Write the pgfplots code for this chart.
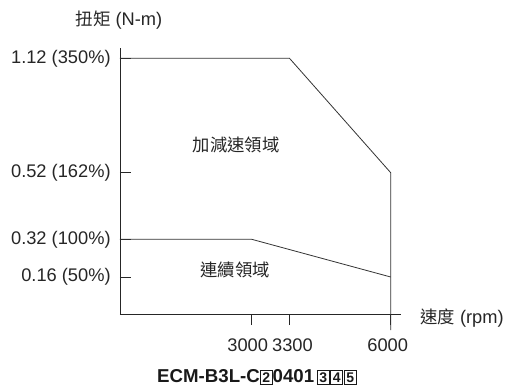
\documentclass[border=0pt]{standalone}
\usepackage{pgfplots}
\pgfplotsset{compat=1.18}
\usepackage{fontspec}
\setmainfont{Liberation Sans}
\newfontfamily\cjk{Noto Sans CJK TC}
\newcommand{\bx}[1]{{\setlength{\fboxsep}{1.2pt}\setlength{\fboxrule}{0.7pt}\fbox{\fontsize{10.5}{10.5}\selectfont\bfseries #1}}}
\begin{document}
\begin{tikzpicture}
\begin{axis}[
  x=0.75pt, y=0.75pt,
  xmin=0, xmax=281, ymin=0, ymax=266.5,
  axis lines=left,
  axis line style={-, line width=0.7pt, black!85},
  clip=false,
  tick align=outside,
  major tick length=8pt,
  tick style={line width=0.7pt, black!85},
  ytick style={xshift=8pt},
  xtick={131.7,169.5,270.7},
  xticklabels={3000\kern6pt,\kern4.5pt 3300,6000\kern4.5pt},
  ytick={37.5,75.2,141.8,256.2},
  yticklabels={0.16 (50\%),0.32 (100\%),0.52 (162\%),1.12 (350\%)},
  ticklabel style={font=\fontsize{13.7}{15}\selectfont, text=black!85},
  yticklabel style={xshift=4.5pt},
  xticklabel style={yshift=-6.5pt},
  /pgf/number format/assume math mode=true,
]
\addplot[line width=0.6pt, black!80] coordinates {(0,256.2) (169.5,256.2) (270.7,141.8) (270.7,-15.5)};
\addplot[line width=0.6pt, black!80] coordinates {(0,75.2) (131.7,75.2) (270.7,37.5)};
\node[font=\fontsize{13.7}{15}\selectfont, text=black!85] at (axis cs:-1,294.5) {{\cjk\fontsize{13}{15}\selectfont 扭矩} (N-m)};
\node[font=\fontsize{13.7}{15}\selectfont, text=black!85] at (axis cs:342,-3.5) {{\cjk\fontsize{13}{15}\selectfont 速度} (rpm)};
\node[font=\fontsize{13}{15}\selectfont\cjk, text=black!85] at (axis cs:116,169.5) {加減速領域};
\node[font=\fontsize{13}{15}\selectfont\cjk, text=black!85] at (axis cs:115,44.5) {連續領域};
\node[font=\fontsize{14}{16}\selectfont\bfseries, text=black!90, inner sep=0pt, anchor=base] at (axis cs:137,-68) {ECM-B3L-C\bx{2}0401\kern2pt\bx{3}\kern0.5pt\bx{4}\kern0.5pt\bx{5}};
\coordinate (bl) at (axis cs:-120,-70.5);
\coordinate (tr) at (axis cs:390,314.5);
\end{axis}
\pgfresetboundingbox
\useasboundingbox (bl) rectangle (tr);
\end{tikzpicture}
\end{document}
